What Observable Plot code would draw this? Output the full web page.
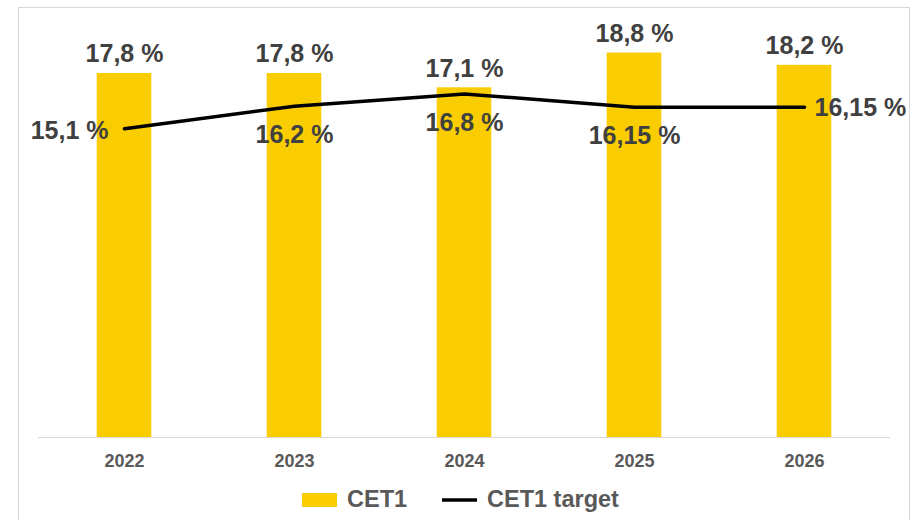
<!DOCTYPE html>
<html>
<head>
<meta charset="utf-8">
<script src="https://cdn.jsdelivr.net/npm/d3@7"></script>
<script src="https://cdn.jsdelivr.net/npm/@observablehq/plot@0.6"></script>
<style>
  html, body { margin: 0; padding: 0; background: #fff; overflow: hidden; }
  body { width: 920px; height: 520px; position: relative; font-family: "Liberation Sans", Arial, sans-serif; }
  #frame { position: absolute; left: 18px; top: 7px; width: 890px; height: 512px; border: 1px solid #d9d9d9; }
  #frame svg { display: block; }
</style>
</head>
<body>
<div id="frame"></div>
<script>
const years = ["2022", "2023", "2024", "2025", "2026"];
const cet1 = [17.8, 17.8, 17.1, 18.8, 18.2];
const cet1Target = [15.1, 16.2, 16.8, 16.15, 16.15];
const seriesNames = ["CET1", "CET1 target"];

const barColor = "#FACD00";
const labelColor = "#404040";
const axisColor = "#595959";

const rows = years.map((y, i) => ({ year: y, cet1: cet1[i], target: cet1Target[i], i }));
const fmt = v => String(v).replace(".", ",") + " %";
const n = rows.length;

const chart = Plot.plot({
  width: 890,
  height: 470,
  marginLeft: 19,
  marginRight: 19,
  marginTop: 20,
  marginBottom: 41,
  style: { fontFamily: "'Liberation Sans', Arial, sans-serif", background: "transparent" },
  x: { domain: years, padding: 0, label: null },
  y: { domain: [0, 20], axis: null },
  marks: [
    Plot.ruleY([0], { stroke: "#d9d9d9", strokeWidth: 1.2 }),
    Plot.barY(rows, { x: "year", y: "cet1", fill: barColor, insetLeft: 57.7, insetRight: 57.7 }),
    Plot.line(rows, { x: "year", y: "target", stroke: "#000", strokeWidth: 3.5, strokeLinejoin: "round", strokeLinecap: "round" }),
    Plot.text(rows, { x: "year", y: "cet1", text: d => fmt(d.cet1), lineAnchor: "bottom", dy: -11,
      fontSize: 25, fontWeight: "bold", fill: labelColor }),
    Plot.text(rows.filter(d => d.i === 0), { x: "year", y: "target", text: d => fmt(d.target),
      textAnchor: "end", lineAnchor: "bottom", dx: -16, dy: 10, fontSize: 25, fontWeight: "bold", fill: labelColor }),
    Plot.text(rows.filter(d => d.i > 0 && d.i < n - 1), { x: "year", y: "target", text: d => fmt(d.target),
      textAnchor: "middle", lineAnchor: "bottom", dy: 37, fontSize: 25, fontWeight: "bold", fill: labelColor }),
    Plot.text(rows.filter(d => d.i === n - 1), { x: "year", y: "target", text: d => fmt(d.target),
      textAnchor: "start", lineAnchor: "bottom", dx: 10, dy: 9, fontSize: 25, fontWeight: "bold", fill: labelColor }),
    Plot.axisX({ tickSize: 0, tickPadding: 17, fontSize: 18, fontWeight: "bold", fill: axisColor, label: null })
  ]
});

const frame = document.getElementById("frame");
frame.appendChild(chart);

// Legend below the chart
const legend = d3.create("svg").attr("width", 890).attr("height", 40)
  .style("font-family", "'Liberation Sans', Arial, sans-serif");
legend.append("rect").attr("x", 283).attr("y", 15).attr("width", 35).attr("height", 14).attr("fill", barColor);
legend.append("text").attr("x", 328).attr("y", 29).attr("font-size", 23.5).attr("font-weight", "bold")
  .attr("fill", axisColor).text(seriesNames[0]);
legend.append("line").attr("x1", 423).attr("x2", 458).attr("y1", 22).attr("y2", 22)
  .attr("stroke", "#000").attr("stroke-width", 3.5);
legend.append("text").attr("x", 468).attr("y", 29).attr("font-size", 23.5).attr("font-weight", "bold")
  .attr("fill", axisColor).text(seriesNames[1]);
frame.appendChild(legend.node());
</script>
</body>
</html>
